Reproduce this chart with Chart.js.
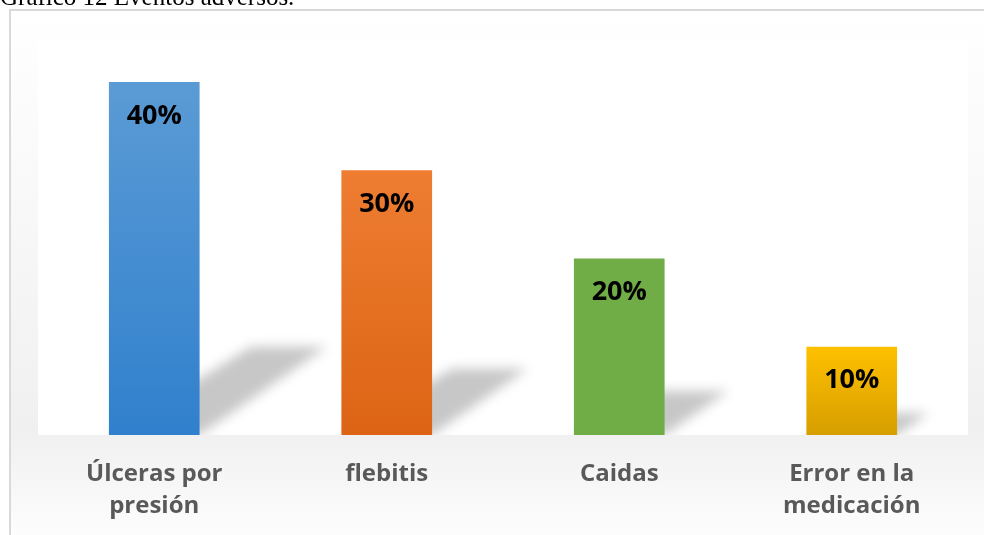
<!DOCTYPE html>
<html>
<head>
<meta charset="utf-8">
<script src="https://cdn.jsdelivr.net/npm/chart.js@4"></script>
<style>
  html, body { margin: 0; padding: 0; background: #fff; }
  #wrap { position: relative; width: 984px; height: 535px; overflow: hidden; }
  #titulo {
    position: absolute; left: 0px; top: -15px;
    font: 25px "Liberation Serif", "Times New Roman", serif;
    line-height: 24px; color: #000; white-space: nowrap; z-index: 2;
  }
  canvas { position: absolute; left: 0; top: 0; }
</style>
</head>
<body>
<div id="wrap">
  <div id="titulo">Gráfico 12 Eventos adversos.</div>
  <canvas id="grafico" width="984" height="535"></canvas>
</div>
<script>
// Datos
const categorias = [["Úlceras por", "presión"], "flebitis", "Caidas", ["Error en la", "medicación"]];
const porcentajes = [40, 30, 20, 10];
const etiquetas = ["40%", "30%", "20%", "10%"];
const coloresArriba = ["#5b9bd5", "#ee7d32", "#70ad47", "#ffc000"];
const coloresAbajo = ["#3080cd", "#dc6414", "#70ad47", "#d69e00"];

// Fondo, marco y area blanca
const fondoPlugin = {
  id: "fondo",
  beforeDraw(chart) {
    const ctx = chart.ctx;
    const a = chart.chartArea;
    ctx.save();
    const g = ctx.createLinearGradient(0, 12, 0, 535);
    g.addColorStop(0, "#ffffff");
    g.addColorStop(0.8, "#f0f0f0");
    g.addColorStop(1, "#fdfdfd");
    ctx.fillStyle = g;
    ctx.fillRect(10, 10, 974, 525);
    ctx.fillStyle = "#ffffff";
    ctx.fillRect(a.left, a.top, a.right - a.left, a.bottom - a.top);
    ctx.strokeStyle = "#d9d9d9";
    ctx.lineWidth = 2;
    ctx.strokeRect(10, 10, 990, 540);
    ctx.restore();
  }
};

// Sombras en perspectiva detras de las barras y etiquetas
const sombraPlugin = {
  id: "sombra",
  beforeDatasetsDraw(chart) {
    const ctx = chart.ctx;
    const a = chart.chartArea;
    const meta = chart.getDatasetMeta(0);
    ctx.save();
    ctx.beginPath();
    ctx.rect(a.left, a.top, a.right - a.left, a.bottom - a.top);
    ctx.clip();
    ctx.filter = "blur(6px)";
    ctx.fillStyle = "rgba(0,0,0,0.22)";
    meta.data.forEach(bar => {
      const h = bar.base - bar.y;
      const left = bar.x - bar.width / 2;
      const right = bar.x + bar.width / 2;
      const dy = h * 0.25;
      const dx = h * 0.36;
      ctx.beginPath();
      ctx.moveTo(left, bar.base);
      ctx.lineTo(right, bar.base);
      ctx.lineTo(right + dx, bar.base - dy);
      ctx.lineTo(left + dx + 15, bar.base - dy);
      ctx.closePath();
      ctx.fill();
    });
    ctx.restore();
  },
  afterDatasetsDraw(chart) {
    const ctx = chart.ctx;
    const meta = chart.getDatasetMeta(0);
    ctx.save();
    ctx.font = "bold 27px 'Open Sans'";
    ctx.fillStyle = "#000";
    ctx.textAlign = "center";
    ctx.textBaseline = "middle";
    meta.data.forEach((bar, i) => {
      ctx.fillText(etiquetas[i], bar.x, bar.y + 34);
    });
    ctx.restore();
  }
};

function colorBarra(context) {
  const chart = context.chart;
  const i = context.dataIndex;
  if (!chart.chartArea || !chart.scales.y) return coloresArriba[i];
  const y = chart.scales.y;
  const top = y.getPixelForValue(porcentajes[i]);
  const bottom = y.getPixelForValue(0);
  const g = chart.ctx.createLinearGradient(0, top, 0, bottom);
  g.addColorStop(0, coloresArriba[i]);
  g.addColorStop(1, coloresAbajo[i]);
  return g;
}

new Chart(document.getElementById("grafico"), {
  type: "bar",
  data: {
    labels: categorias,
    datasets: [{
      data: porcentajes,
      backgroundColor: colorBarra,
      borderWidth: 0,
      categoryPercentage: 1,
      barPercentage: 0.39
    }]
  },
  options: {
    responsive: false,
    animation: false,
    layout: { padding: { left: 38, right: 16, top: 38, bottom: 0 } },
    plugins: {
      legend: { display: false },
      tooltip: { enabled: false }
    },
    scales: {
      x: {
        grid: { display: false, drawTicks: false },
        border: { display: false },
        ticks: {
          color: "#595959",
          padding: 23,
          maxRotation: 0,
          autoSkip: false,
          font: { family: "'Open Sans'", size: 24, weight: "bold", lineHeight: 1.33 }
        },
        afterFit(scale) { scale.height = 100; }
      },
      y: {
        display: false,
        min: 0,
        max: 45
      }
    }
  },
  plugins: [fondoPlugin, sombraPlugin]
});
</script>
</body>
</html>
